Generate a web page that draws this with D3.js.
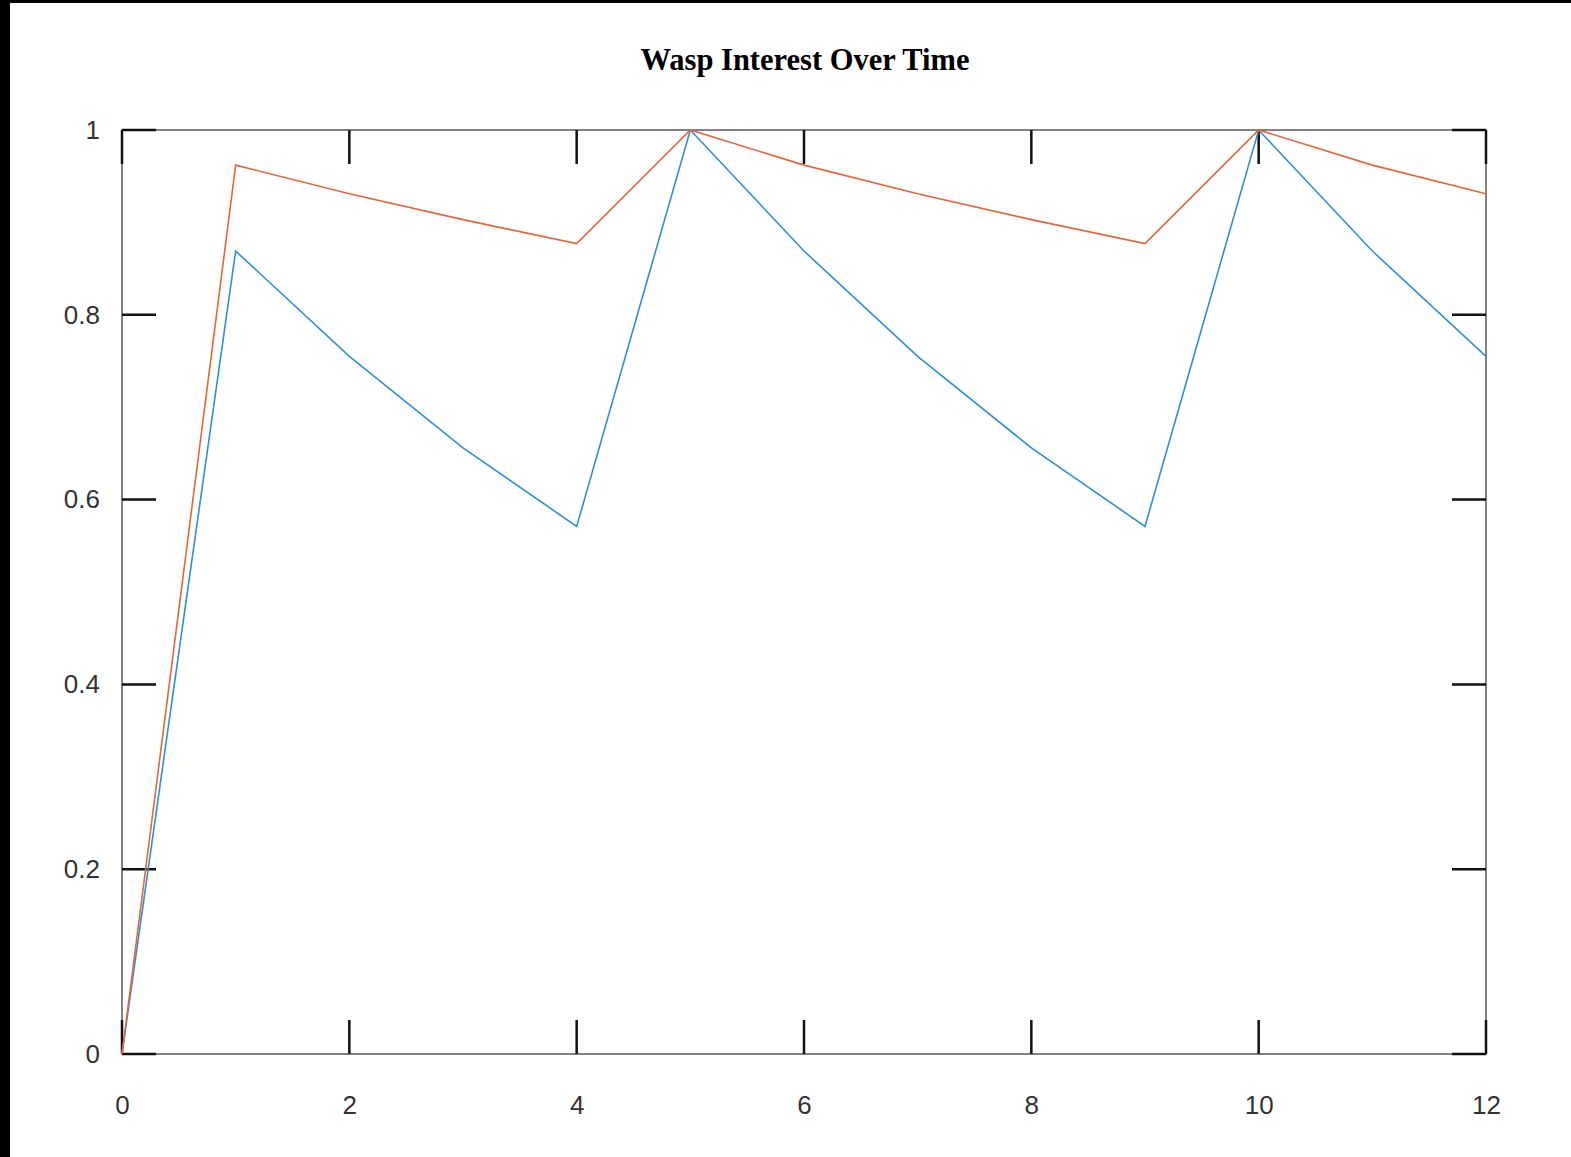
<!DOCTYPE html>
<html>
<head>
<meta charset="utf-8">
<script src="https://cdn.jsdelivr.net/npm/d3@7"></script>
<style>
html,body{margin:0;padding:0;background:#fff;}
svg{display:block;}
</style>
</head>
<body>
<script>
const title = "Wasp Interest Over Time";
const xValues = [0,1,2,3,4,5,6,7,8,9,10,11,12];
const blueValues = [0,0.869,0.755,0.656,0.571,1,0.869,0.755,0.656,0.571,1,0.869,0.755];
const orangeValues = [0,0.962,0.931,0.903,0.877,1,0.962,0.931,0.903,0.877,1,0.962,0.931];
const xTicks = [0,2,4,6,8,10,12];
const yTicks = [0,0.2,0.4,0.6,0.8,1];

const W = 1571, H = 1157;
const L = 122, R = 1486, T = 130, B = 1054;

const svg = d3.select("body").append("svg").attr("width", W).attr("height", H);
svg.append("rect").attr("x",0).attr("y",0).attr("width",W).attr("height",H).attr("fill","#fff");
// black border strips
svg.append("rect").attr("x",0).attr("y",0).attr("width",10).attr("height",H).attr("fill","#000");
svg.append("rect").attr("x",0).attr("y",0).attr("width",W).attr("height",3).attr("fill","#000");

const x = d3.scaleLinear().domain([0,12]).range([L,R]);
const y = d3.scaleLinear().domain([0,1]).range([B,T]);

// box
svg.append("rect").attr("x",L).attr("y",T).attr("width",R-L).attr("height",B-T)
  .attr("fill","none").attr("stroke","#5a5a5a").attr("stroke-width",1.5);

const tickLen = 34;
const tickStyle = g => g.attr("stroke","#111").attr("stroke-width",2.5);

const xt = svg.append("g");
xTicks.forEach(v => {
  xt.append("line").attr("x1",x(v)).attr("x2",x(v)).attr("y1",B).attr("y2",B-tickLen).call(tickStyle);
  xt.append("line").attr("x1",x(v)).attr("x2",x(v)).attr("y1",T).attr("y2",T+tickLen).call(tickStyle);
});
const yt = svg.append("g");
yTicks.forEach(v => {
  yt.append("line").attr("x1",L).attr("x2",L+tickLen).attr("y1",y(v)).attr("y2",y(v)).call(tickStyle);
  yt.append("line").attr("x1",R).attr("x2",R-tickLen).attr("y1",y(v)).attr("y2",y(v)).call(tickStyle);
});

const xAxis = svg.append("g").attr("transform",`translate(0,${B})`)
  .call(d3.axisBottom(x).tickValues(xTicks).tickFormat(d3.format("d")).tickSize(0).tickPadding(42));
const yAxis = svg.append("g").attr("transform",`translate(${L},0)`)
  .call(d3.axisLeft(y).tickValues(yTicks).tickFormat(d => d===0||d===1 ? String(d) : d3.format(".1f")(d)).tickSize(0).tickPadding(22));
[xAxis,yAxis].forEach(a => {
  a.select(".domain").remove();
  a.selectAll("text").attr("font-family","Liberation Sans, Arial, sans-serif").attr("font-size",26).attr("fill","#333");
});

const line = d3.line().x((d,i)=>x(xValues[i])).y(d=>y(d));
svg.append("path").datum(blueValues).attr("d",line).attr("fill","none").attr("stroke","#2f8fd4").attr("stroke-width",1.6);
svg.append("path").datum(orangeValues).attr("d",line).attr("fill","none").attr("stroke","#e2673a").attr("stroke-width",1.6);

svg.append("text").attr("x",805).attr("y",70).attr("text-anchor","middle")
  .attr("font-family","Liberation Serif, Times New Roman, serif").attr("font-weight","bold")
  .attr("font-size",30.5).attr("fill","#000").text(title);
</script>
</body>
</html>
